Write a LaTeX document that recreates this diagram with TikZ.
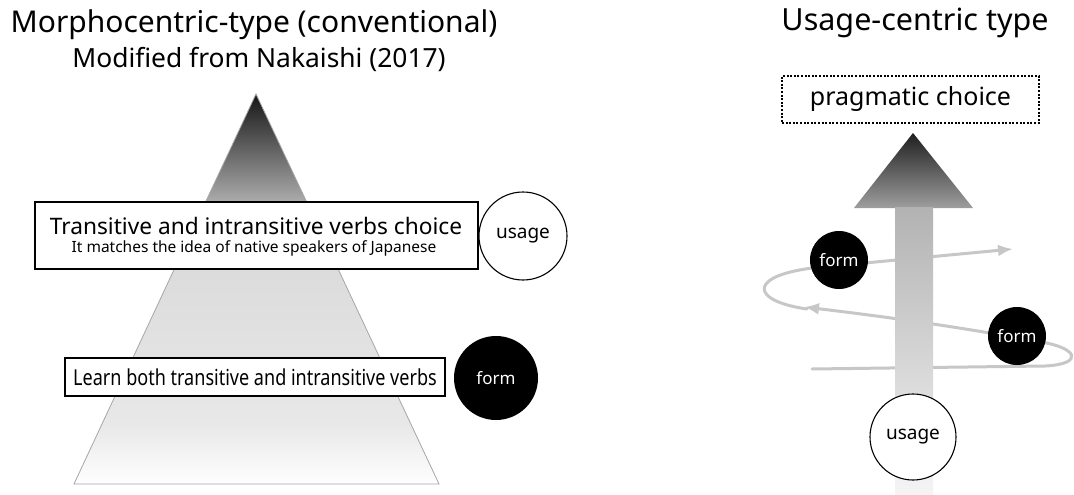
\documentclass[tikz,border=0pt]{standalone}
\usepackage{fontspec}
\setmainfont{Noto Sans}
\newfontfamily\narrowfont[FakeStretch=0.82]{Noto Sans}
\usetikzlibrary{arrows.meta}

\tikzset{
  textbox/.style={draw, fill=white, line width=1.4pt, inner sep=0pt},
  usagecirc/.style={circle, draw, fill=white, line width=1.1pt, inner sep=0pt,
    font=\fontsize{19}{21}\selectfont},
  formcirc/.style={circle, fill=black, text=white, inner sep=0pt,
    font=\fontsize{17}{19}\selectfont},
  spiral/.style={black!22, line width=3pt, line cap=round},
}

\begin{document}
\begin{tikzpicture}[x=1pt,y=-1pt]
  \useasboundingbox[fill=white] (0,0) rectangle (1074,495);

  % left half: the pyramid
  \node (ltitle) at (254,25) {\fontsize{30}{34}\selectfont Morphocentric-type (conventional)};
  \node (lsub) at (259,59) {\fontsize{26.4}{30}\selectfont Modified from Nakaishi (2017)};
  \coordinate (apex) at (256,94);
  \coordinate (bl) at (74,484);
  \coordinate (br) at (439,484);
  \begin{scope}
    \clip (apex) -- (br) -- (bl) -- cycle;
    \shade[top color=black!92, bottom color=black!32] (60,93) rectangle (450,203);
    \shade[top color=black!16, bottom color=black!9] (60,202) rectangle (450,425);
    \shade[top color=black!9, bottom color=white] (60,424) rectangle (450,485);
  \end{scope}
  \draw[black!35, line width=0.8pt] (apex) -- (br) -- (bl) -- cycle;

  \node[textbox, minimum width=443pt, minimum height=67pt] (choice) at (256.5,235.5) {};
  \node[font=\fontsize{22.7}{26}\selectfont] (choicetxt) at (256,226) {Transitive and intransitive verbs choice};
  \node[font=\fontsize{15.5}{18}\selectfont] (choicesub) at (254,248) {It matches the idea of native speakers of Japanese};
  \node[textbox, minimum width=380pt, minimum height=38pt] (learn) at (255,377)
    {\narrowfont\fontsize{22}{26}\selectfont Learn both transitive and intransitive verbs};
  \node[usagecirc, minimum size=88pt] (usageL) at (523,236) {usage};
  \node[formcirc, minimum size=84pt] (formL) at (496,378) {form};

  % right half: usage first
  \node (rtitle) at (915,23) {\fontsize{30.5}{34}\selectfont Usage-centric type};
  \node[draw, line width=1.1pt, dash pattern=on 2pt off 1.6pt, minimum width=257pt,
    minimum height=47pt, font=\fontsize{25}{28}\selectfont] (prag) at (910.5,99.5) {pragmatic choice};

  % spiral behind the arrow
  \coordinate (s0) at (812,369);
  \coordinate (s1) at (1045,366);
  \coordinate (s2) at (1035,341);
  \coordinate (s3) at (804,307);
  \coordinate (s4) at (812,268);
  \coordinate (s5) at (1013,249);
  \draw[spiral, -{Latex[length=15pt,width=12pt]}] (s0) -- (s1)
    .. controls (1085,364) and (1079,347) .. (s2)
    .. controls (960,327) and (880,316) .. (s3);
  \draw[spiral, -{Latex[length=15pt,width=12pt]}] (807,309)
    .. controls (772,304) and (759,293) .. (766,284)
    .. controls (772,276) and (790,271) .. (s4) -- (s5);

  % the big arrow
  \shade[top color=black!88, bottom color=black!38] (913,133) -- (973,208) -- (854,208) -- cycle;
  \shade[top color=black!30, bottom color=black!4] (895,207.5) rectangle (933,495);

  \node[formcirc, minimum size=58pt] (formA) at (839,260) {form};
  \node[formcirc, minimum size=58pt] (formB) at (1017,336) {form};
  \node[usagecirc, minimum size=86pt] (usageR) at (913,437) {usage};
\end{tikzpicture}
\end{document}
